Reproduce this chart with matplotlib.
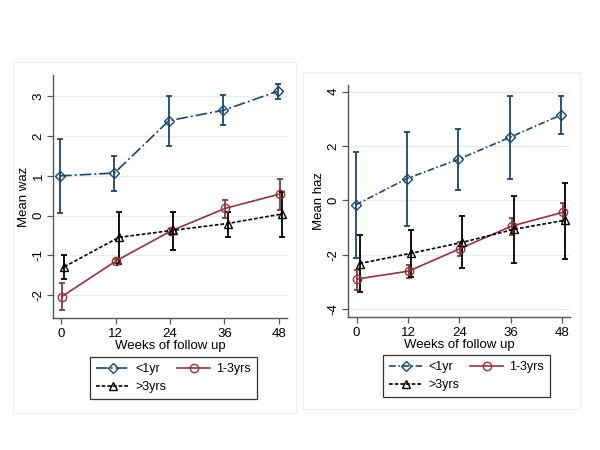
import matplotlib
matplotlib.use("Agg")
import matplotlib.pyplot as plt
from matplotlib.patches import Rectangle
import numpy as np

plt.rcParams['font.family'] = ['Liberation Sans', 'DejaVu Sans']
plt.rcParams['axes.unicode_minus'] = False

weeks = [0, 12, 24, 36, 48]
groups = ["<1yr", "1-3yrs", ">3yrs"]

# Left panel: mean WAZ with CI
waz_lt1 = [1.00, 1.07, 2.39, 2.65, 3.13]
waz_lt1_lo = [0.06, 0.63, 1.76, 2.28, 2.94]
waz_lt1_hi = [1.93, 1.50, 3.00, 3.03, 3.32]
waz_13 = [-2.04, -1.14, -0.39, 0.18, 0.54]
waz_13_lo = [-2.39, -1.20, -0.44, -0.05, 0.14]
waz_13_hi = [-1.69, -1.09, -0.33, 0.39, 0.93]
waz_gt3 = [-1.29, -0.55, -0.37, -0.20, 0.04]
waz_gt3_lo = [-1.60, -1.23, -0.87, -0.53, -0.53]
waz_gt3_hi = [-0.99, 0.10, 0.10, 0.10, 0.59]

# Right panel: mean HAZ with CI
haz_lt1 = [-0.17, 0.80, 1.51, 2.32, 3.15]
haz_lt1_lo = [-2.11, -0.93, 0.39, 0.79, 2.46]
haz_lt1_hi = [1.79, 2.52, 2.63, 3.84, 3.84]
haz_13 = [-2.90, -2.61, -1.78, -0.95, -0.44]
haz_13_lo = [-3.29, -2.87, -2.05, -1.26, -0.77]
haz_13_hi = [-2.56, -2.37, -1.52, -0.66, -0.11]
haz_gt3 = [-2.33, -1.95, -1.55, -1.07, -0.73]
haz_gt3_lo = [-3.39, -2.84, -2.49, -2.30, -2.15]
haz_gt3_hi = [-1.29, -1.09, -0.59, 0.15, 0.63]

left_yticks = [-2, -1, 0, 1, 2, 3]
right_yticks = [-4, -2, 0, 2, 4]

BLUE = "#1a476f"
RED = "#90353b"
BLACK = "#000000"
GRID = "#e3ecef"
AXC = "#555555"

fig = plt.figure(figsize=(6, 4.5), dpi=100)

# faint panel borders
fig.patches.append(Rectangle((13/600, 1-413/450), 283/600, 351/450, transform=fig.transFigure,
                             fill=False, ec="#eeeeee", lw=0.8))
fig.patches.append(Rectangle((303/600, 1-409/450), 277/600, 337/450, transform=fig.transFigure,
                             fill=False, ec="#eeeeee", lw=0.8))

def panel(rect, means, los, his, styles, offsets, yticks, ylim, xlim, ylabel):
    ax = fig.add_axes(rect)
    x = np.array(weeks, dtype=float)
    handles = []
    for m, lo, hi, (col, ls, mk, ms), off in zip(means, los, his, styles, offsets):
        xx = x + off
        m = np.array(m); lo = np.array(lo); hi = np.array(hi)
        ax.errorbar(xx, m, yerr=[m - lo, hi - m], fmt='none', ecolor=col,
                    elinewidth=1.3, capsize=2.5, capthick=1.3, zorder=3)
        h, = ax.plot(xx, m, color=col, linestyle=ls, lw=1.2, marker=mk, ms=ms,
                     mfc='none', mec=col, mew=1.0, zorder=4)
        handles.append(h)
    ax.set_xlim(*xlim)
    ax.set_ylim(*ylim)
    ax.set_xticks(weeks)
    ax.set_yticks(yticks)
    ax.grid(axis='y', color=GRID, lw=0.9)
    ax.set_axisbelow(True)
    for s in ['top', 'right']:
        ax.spines[s].set_visible(False)
    for s in ['left', 'bottom']:
        ax.spines[s].set_color(AXC)
        ax.spines[s].set_linewidth(1.0)
    ax.tick_params(axis='both', colors=AXC, labelcolor='black', labelsize=9.5, length=4, width=0.9)
    ax.tick_params(axis='y', pad=2)
    for lab in ax.get_yticklabels():
        lab.set_rotation(90)
        lab.set_va('center')
    ax.set_xlabel("Weeks of follow up", fontsize=9.5, labelpad=0)
    ax.set_ylabel(ylabel, fontsize=9.5, labelpad=2)
    return ax, handles

styles_left = [(BLUE, (0, (7, 1.8, 1.2, 1.8)), 'D', 5),
               (RED, '-', 'o', 6),
               (BLACK, (0, (2.2, 1.2)), '^', 5.5)]
styles_right = [(BLUE, (0, (4, 1.5, 1, 1.5)), 'D', 5),
                (RED, '-', 'o', 6),
                (BLACK, (0, (2.2, 1.2)), '^', 5.5)]
offsets = [-0.25, 0.15, 0.7]

axL, hL = panel([53/600, 1-318/450, 234/600, 243/450],
                [waz_lt1, waz_13, waz_gt3], [waz_lt1_lo, waz_13_lo, waz_gt3_lo],
                [waz_lt1_hi, waz_13_hi, waz_gt3_hi], styles_left, offsets,
                left_yticks, (-2.58, 3.54), (-1.8, 49.8), "Mean waz")
axR, hR = panel([348/600, 1-317/450, 222/600, 232/450],
                [haz_lt1, haz_13, haz_gt3], [haz_lt1_lo, haz_13_lo, haz_gt3_lo],
                [haz_lt1_hi, haz_13_hi, haz_gt3_hi], styles_right, offsets,
                right_yticks, (-4.3, 4.25), (-2.0, 49.8), "Mean haz")

def legend(handles, anchor):
    order = [0, 2, 1]
    leg = fig.legend([handles[i] for i in order], [groups[i] for i in order],
                     ncol=2, loc='upper left', bbox_to_anchor=anchor,
                     bbox_transform=fig.transFigure, frameon=True, fancybox=False,
                     edgecolor='black', fontsize=9, handlelength=2.6,
                     columnspacing=0.9, handletextpad=0.5, borderpad=0.5,
                     labelspacing=0.45, borderaxespad=0)
    leg.get_frame().set_linewidth(0.9)
    return leg

legend(hL, (90/600, 1-357/450))
legend(hR, (383/600, 1-355/450))

fig.savefig("out.png", dpi=100, facecolor='white')
